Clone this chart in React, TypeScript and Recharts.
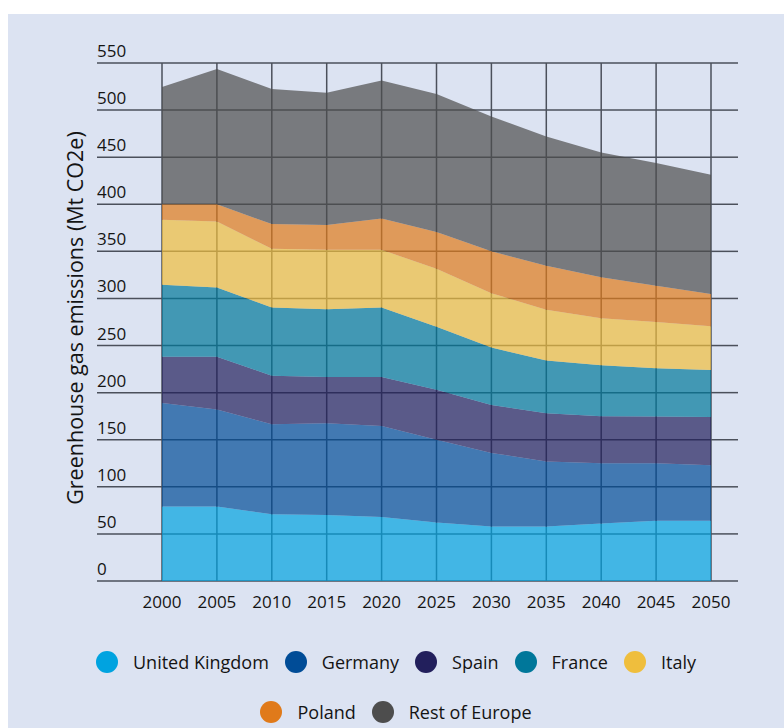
import { AreaChart, Area, XAxis, YAxis, CartesianGrid } from 'recharts'

// Greenhouse gas emissions by country, stacked, 2000-2050 (Mt CO2e)

const YEARS = [2000, 2005, 2010, 2015, 2020, 2025, 2030, 2035, 2040, 2045, 2050]
const UK = [79, 79, 71, 70, 68, 62, 58, 58, 61, 64, 64]
const GERMANY = [110, 103, 95.5, 97.5, 96.7, 88, 78, 69, 64, 61, 59]
const SPAIN = [49, 56, 51.5, 49, 51.8, 53, 51, 51, 50, 49.6, 51]
const FRANCE = [76.5, 73.6, 72.3, 72.1, 73.8, 67, 61, 56, 54, 51.4, 50]
const ITALY = [69, 70, 62.4, 63, 61.3, 61.5, 57.6, 54, 50, 49, 46.6]
const POLAND = [16.5, 18.3, 26.3, 26.4, 33.4, 39, 44.4, 46.6, 43.6, 38.4, 34]
const REST = [124.5, 143.6, 143.4, 140.4, 146.5, 146.6, 143.3, 137.4, 132.4, 130.3, 126.7]
const Y_TICKS = [0, 50, 100, 150, 200, 250, 300, 350, 400, 450, 500, 550]

const SERIES = [
  { key: 'uk', name: 'United Kingdom', values: UK, color: '#00A3E0' },
  { key: 'germany', name: 'Germany', values: GERMANY, color: '#004C97' },
  { key: 'spain', name: 'Spain', values: SPAIN, color: '#221F5C' },
  { key: 'france', name: 'France', values: FRANCE, color: '#00779A' },
  { key: 'italy', name: 'Italy', values: ITALY, color: '#EFBE3D' },
  { key: 'poland', name: 'Poland', values: POLAND, color: '#E07A1A' },
  { key: 'rest', name: 'Rest of Europe', values: REST, color: '#4D4D4D' },
]

const data = YEARS.map((year, i) => {
  const row: Record<string, number> = { year }
  SERIES.forEach((s) => {
    row[s.key] = s.values[i]
  })
  return row
})

const FONT = '"Open Sans", sans-serif'
const TEXT = '#141414'
const GRID = '#4b505b'
const W = 776
const H = 610
const M = { top: 49, right: 73, bottom: 0, left: 0 }
const Y_AXIS_W = 154
const LINE_LEFT = 89
const LINE_RIGHT = 730

function YTick(props: any) {
  const { y, payload } = props
  const plotRight = W - M.right
  return (
    <g>
      <line x1={LINE_LEFT} x2={Y_AXIS_W} y1={y} y2={y} stroke={GRID} strokeWidth={1.5} />
      <line x1={plotRight} x2={LINE_RIGHT} y1={y} y2={y} stroke={GRID} strokeWidth={1.5} />
      <text x={LINE_LEFT} y={y - 6} fontSize={17} fill={TEXT} fontFamily={FONT}>
        {payload.value}
      </text>
    </g>
  )
}

function XTick(props: any) {
  const { x, y, payload } = props
  return (
    <text x={x} y={y} dy={19} textAnchor="middle" fontSize={17} fill={TEXT} fontFamily={FONT}>
      {payload.value}
    </text>
  )
}

function YLabel(props: any) {
  const { viewBox } = props
  const cx = 66
  const cy = viewBox.y + viewBox.height / 2 - 4
  return (
    <text
      x={cx}
      y={cy}
      transform={`rotate(-90, ${cx}, ${cy})`}
      textAnchor="middle"
      dominantBaseline="central"
      fontSize={21.5}
      fill={TEXT}
      fontFamily={FONT}
    >
      Greenhouse gas emissions (Mt CO2e)
    </text>
  )
}

function LegendRow({ items }: { items: typeof SERIES }) {
  return (
    <div style={{ display: 'flex', justifyContent: 'center', alignItems: 'center', gap: 16, height: 30 }}>
      {items.map((s) => (
        <div key={s.key} style={{ display: 'flex', alignItems: 'center', gap: 15 }}>
          <span style={{ width: 22, height: 22, borderRadius: '50%', background: s.color, display: 'inline-block' }} />
          <span style={{ fontSize: 18, color: TEXT, fontFamily: FONT }}>{s.name}</span>
        </div>
      ))}
    </div>
  )
}

export default function App() {
  return (
    <div
      style={{
        position: 'absolute',
        left: 8,
        top: 14,
        width: W,
        height: 714,
        background: '#DCE3F2',
        fontFamily: FONT,
      }}
    >
      <AreaChart width={W} height={H} data={data} margin={M}>
        <CartesianGrid stroke={GRID} strokeWidth={1.5} fill="none" />
        <XAxis
          dataKey="year"
          type="number"
          domain={[2000, 2050]}
          ticks={YEARS}
          axisLine={false}
          tickLine={false}
          height={43}
          tick={<XTick />}
          interval={0}
        />
        <YAxis
          domain={[0, 550]}
          ticks={Y_TICKS}
          axisLine={false}
          tickLine={false}
          width={Y_AXIS_W}
          tick={<YTick />}
          interval={0}
          label={<YLabel />}
        />
        {SERIES.map((s) => (
          <Area
            key={s.key}
            type="linear"
            dataKey={s.key}
            name={s.name}
            stackId="1"
            stroke="none"
            fill={s.color}
            fillOpacity={0.7}
            isAnimationActive={false}
          />
        ))}
      </AreaChart>
      <div style={{ position: 'absolute', top: 633, left: 0, width: W }}>
        <LegendRow items={SERIES.slice(0, 5)} />
        <div style={{ height: 20 }} />
        <LegendRow items={SERIES.slice(5)} />
      </div>
    </div>
  )
}
